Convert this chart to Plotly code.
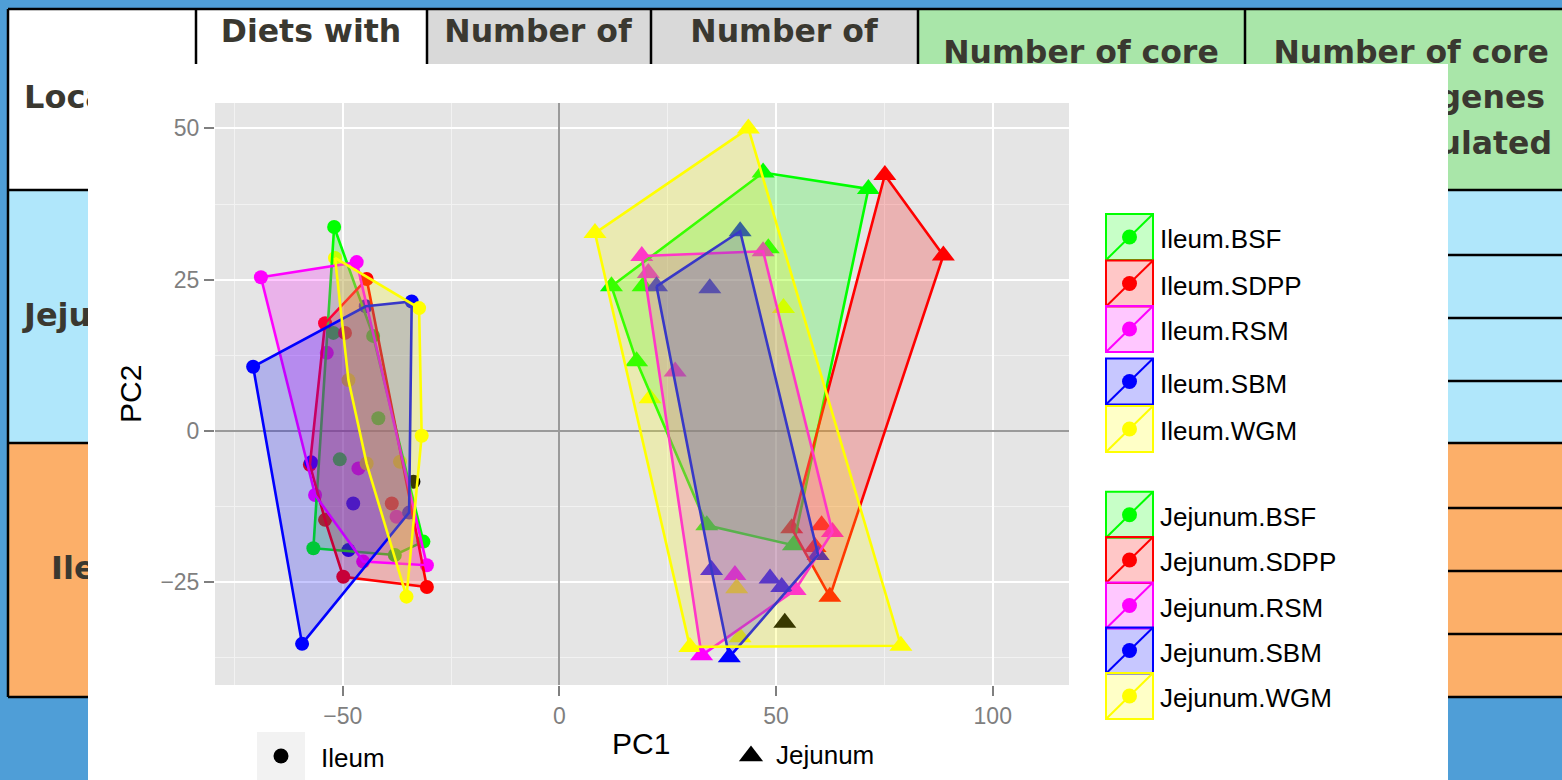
import plotly.graph_objects as go

W, H = 1562, 780

# ---------------- PCA scores (PC1, PC2) ----------------
# Ileum samples (circles)
ileum_bsf_pc1 = [-52.0, -52.2, -43.0, -41.8, -50.7, -56.8, -38.0, -31.4]
ileum_bsf_pc2 = [33.7, 16.2, 15.7, 2.1, -4.7, -19.4, -20.5, -18.3]
ileum_sdpp_pc1 = [-44.5, -54.1, -49.5, -57.6, -38.7, -54.1, -49.9, -30.6]
ileum_sdpp_pc2 = [25.1, 17.8, 16.2, -5.6, -12.0, -14.7, -24.1, -25.8]
ileum_rsm_pc1 = [-46.8, -68.9, -53.7, -46.4, -56.4, -37.6, -45.3, -30.6]
ileum_rsm_pc2 = [27.9, 25.4, 12.9, -6.2, -10.6, -14.2, -21.6, -22.2]
ileum_sbm_pc1 = [-34.1, -44.7, -70.7, -57.3, -47.6, -34.7, -48.7, -59.4]
ileum_sbm_pc2 = [21.4, 20.6, 10.6, -5.2, -12.0, -13.5, -19.7, -35.2]
ileum_wgm_pc1 = [-51.8, -32.4, -48.7, -31.8, -44.5, -36.8, -35.3]
ileum_wgm_pc2 = [28.6, 20.3, 8.4, -0.8, -5.4, -5.1, -27.4]
ileum_other_pc1 = [-33.7]
ileum_other_pc2 = [-8.4]

# Jejunum samples (triangles)
jejunum_bsf_pc1 = [47.0, 71.3, 48.2, 12.0, 19.3, 17.8, 34.0, 54.0]
jejunum_bsf_pc2 = [42.7, 40.0, 30.2, 23.9, 23.9, 11.5, -15.6, -18.9]
jejunum_sdpp_pc1 = [75.1, 88.6, 53.6, 60.5, 59.0, 62.4]
jejunum_sdpp_pc2 = [42.3, 29.0, -16.1, -15.6, -19.2, -27.4]
jejunum_rsm_pc1 = [19.0, 47.0, 20.5, 26.7, 63.0, 40.5, 54.4, 32.8]
jejunum_rsm_pc2 = [28.9, 29.7, 26.1, 9.8, -16.7, -23.8, -26.3, -37.1]
jejunum_sbm_pc1 = [41.7, 22.4, 34.7, 59.7, 35.1, 48.6, 51.3, 39.2]
jejunum_sbm_pc2 = [33.0, 23.9, 23.6, -20.5, -23.0, -24.4, -25.8, -37.4]
jejunum_wgm_pc1 = [43.6, 8.2, 51.7, 20.9, 40.9, 41.7, 30.1, 78.8]
jejunum_wgm_pc2 = [50.0, 32.7, 20.3, 5.4, -26.0, -34.1, -35.7, -35.5]
jejunum_other_pc1 = [52.0]
jejunum_other_pc2 = [-31.7]

diets = ["BSF", "SDPP", "RSM", "SBM", "WGM"]
tissues = ["Ileum", "Jejunum"]
x_ticks = [-50, 0, 50, 100]
y_ticks = [-25, 0, 25, 50]

ileum_groups = [
    (ileum_bsf_pc1, ileum_bsf_pc2), (ileum_sdpp_pc1, ileum_sdpp_pc2),
    (ileum_rsm_pc1, ileum_rsm_pc2), (ileum_sbm_pc1, ileum_sbm_pc2),
    (ileum_wgm_pc1, ileum_wgm_pc2),
]
jejunum_groups = [
    (jejunum_bsf_pc1, jejunum_bsf_pc2), (jejunum_sdpp_pc1, jejunum_sdpp_pc2),
    (jejunum_rsm_pc1, jejunum_rsm_pc2), (jejunum_sbm_pc1, jejunum_sbm_pc2),
    (jejunum_wgm_pc1, jejunum_wgm_pc2),
]

# ---------------- styles ----------------
diet_rgb = {"BSF": (0, 255, 0), "SDPP": (255, 0, 0), "RSM": (255, 0, 255),
            "SBM": (0, 0, 255), "WGM": (255, 255, 0)}
FILL_ALPHA = 0.22
SLIDE_BLUE = "#4f9ed7"
TXT = "#3a3830"
CHART_FONT = "Liberation Sans, Arial, sans-serif"
TABLE_FONT = "DejaVu Sans, Verdana, sans-serif"


def solid(d):
    r, g, b = diet_rgb[d]
    return f"rgb({r},{g},{b})"


def fill(d):
    r, g, b = diet_rgb[d]
    return f"rgba({r},{g},{b},{FILL_ALPHA})"


def px(xp):
    return xp / W


def py(yp):
    return 1 - yp / H


def convex_hull(xs, ys):
    pts = sorted(set(zip(xs, ys)))
    if len(pts) < 3:
        return pts

    def cross(o, a, b):
        return (a[0] - o[0]) * (b[1] - o[1]) - (a[1] - o[1]) * (b[0] - o[0])

    lower, upper = [], []
    for p in pts:
        while len(lower) >= 2 and cross(lower[-2], lower[-1], p) <= 0:
            lower.pop()
        lower.append(p)
    for p in reversed(pts):
        while len(upper) >= 2 and cross(upper[-2], upper[-1], p) <= 0:
            upper.pop()
        upper.append(p)
    return lower[:-1] + upper[:-1]


fig = go.Figure()

# ---------------- slide table behind the chart ----------------
shapes = []


def rect(x0, y0, x1, y1, color, line=None):
    shapes.append(dict(type="rect", xref="paper", yref="paper", layer="below",
                       x0=px(x0), x1=px(x1), y0=py(y1), y1=py(y0),
                       fillcolor=color, line=dict(width=0) if line is None else line))


def seg(x0, y0, x1, y1, color="#000000", width=2.5):
    shapes.append(dict(type="line", xref="paper", yref="paper", layer="below",
                       x0=px(x0), x1=px(x1), y0=py(y0), y1=py(y1),
                       line=dict(color=color, width=width)))


rect(8, 9, 427, 190, "#ffffff")
rect(427, 9, 918, 190, "#d9d9d9")
rect(918, 9, W, 190, "#a9e6a9")
rect(8, 190, W, 443, "#b0e7fb")
rect(8, 443, W, 697, "#fcaf69")
for yy in [9, 190, 443, 697]:
    seg(8, yy, W, yy)
for yy in [255, 318, 381, 508, 571, 634]:
    seg(196, yy, W, yy)
for xx in [8, 196, 427, 651, 918, 1245]:
    seg(xx, 9, xx, 697)

# white chart card and grey panel
rect(88, 64, 1448, H, "#ffffff")
rect(215, 103, 1069, 685, "#e5e5e5")

# clipped table text, drawn in pixel-space helper axes
table_font = dict(family=TABLE_FONT, size=32, color=TXT)
header_font = dict(family=TABLE_FONT, size=31.5, color=TXT)


def table_text(xa, ya, x, y, text, pos, font=header_font):
    fig.add_trace(go.Scatter(x=[x], y=[y], text=[f"<b>{text}</b>"], mode="text",
                             textposition=pos, textfont=font, xaxis=xa, yaxis=ya,
                             hoverinfo="skip", showlegend=False, cliponaxis=True))


# left strip
table_text("x2", "y2", 24, 100, "Location", "middle right", table_font)
table_text("x2", "y2", 24, 318, "Jejunum", "middle right", table_font)
table_text("x2", "y2", 51, 571, "Ileum", "middle right", table_font)
# header strip above the chart card
table_text("x3", "y3", 311, 34, "Diets with", "middle center")
table_text("x3", "y3", 538, 34, "Number of", "middle center")
table_text("x3", "y3", 784, 34, "Number of", "middle center")
table_text("x3", "y3", 1081, 55, "Number of core", "middle center")
table_text("x3", "y3", 1549, 55, "Number of core", "middle left")
# right strip
table_text("x4", "y4", 1549, 55, "Number of core", "middle left")
table_text("x4", "y4", 1545, 100, "genes", "middle left")
table_text("x4", "y4", 1552, 146, "regulated", "middle left")

# ---------------- sample points ----------------
for groups, sym, size in [(ileum_groups, "circle", 14), (jejunum_groups, "triangle-up", 20)]:
    for d, (gx, gy) in zip(diets, groups):
        fig.add_trace(go.Scatter(x=gx, y=gy, mode="markers",
                                 marker=dict(symbol=sym, size=size, color=solid(d), line=dict(width=0)),
                                 hoverinfo="skip", showlegend=False))
fig.add_trace(go.Scatter(x=ileum_other_pc1, y=ileum_other_pc2, mode="markers",
                         marker=dict(symbol="circle", size=14, color="#000000", line=dict(width=0)),
                         hoverinfo="skip", showlegend=False))
fig.add_trace(go.Scatter(x=jejunum_other_pc1, y=jejunum_other_pc2, mode="markers",
                         marker=dict(symbol="triangle-up", size=20, color="#000000", line=dict(width=0)),
                         hoverinfo="skip", showlegend=False))

# ---------------- convex hulls per group ----------------
for groups in [ileum_groups, jejunum_groups]:
    for d, (gx, gy) in zip(diets, groups):
        hp = convex_hull(gx, gy)
        hx = [p[0] for p in hp] + [hp[0][0]]
        hy = [p[1] for p in hp] + [hp[0][1]]
        fig.add_trace(go.Scatter(x=hx, y=hy, mode="lines", fill="toself", fillcolor=fill(d),
                                 line=dict(color=solid(d), width=2.6),
                                 hoverinfo="skip", showlegend=False))

# ---------------- colour legend (drawn keys) ----------------
key_x0, key_x1 = 1106, 1153
key_centers = {"Ileum": [237, 283.5, 329, 381.5, 429],
               "Jejunum": [514.7, 560, 605.5, 650.5, 696]}
annotations = []
for t in tissues:
    for d, c in zip(diets, key_centers[t]):
        y0, y1 = c - 23, c + 23
        rect(key_x0, y0, key_x1, y1, fill(d), line=dict(color=solid(d), width=2))
        seg(key_x0, y1, key_x1, y0, color=solid(d), width=2)
        fig.add_trace(go.Scatter(x=[(key_x0 + key_x1) / 2], y=[c], mode="markers",
                                 marker=dict(symbol="circle", size=15, color=solid(d), line=dict(width=0)),
                                 xaxis="x5", yaxis="y5", hoverinfo="skip", showlegend=False))
        annotations.append(dict(xref="paper", yref="paper", x=px(1158), y=py(c + 2),
                                xanchor="left", yanchor="middle", showarrow=False,
                                text=f"{t}.{d}", font=dict(family=CHART_FONT, size=26, color="#000000")))

# ---------------- shape legend ----------------
rect(257, 732, 305, H, "#f2f2f2")
fig.add_trace(go.Scatter(x=[281], y=[756], mode="markers",
                         marker=dict(symbol="circle", size=15, color="#000000"),
                         xaxis="x5", yaxis="y5", hoverinfo="skip", showlegend=False))
fig.add_trace(go.Scatter(x=[751], y=[756], mode="markers",
                         marker=dict(symbol="triangle-up", size=21, color="#000000"),
                         xaxis="x5", yaxis="y5", hoverinfo="skip", showlegend=False))
annotations.append(dict(xref="paper", yref="paper", x=px(319), y=py(758), xanchor="left",
                        yanchor="middle", showarrow=False, text=tissues[0],
                        font=dict(family=CHART_FONT, size=26, color="#000000")))
annotations.append(dict(xref="paper", yref="paper", x=px(774), y=py(755), xanchor="left",
                        yanchor="middle", showarrow=False, text=tissues[1],
                        font=dict(family=CHART_FONT, size=26, color="#000000")))

# axis titles
annotations.append(dict(xref="paper", yref="paper", x=px(641), y=py(743), xanchor="center",
                        yanchor="middle", showarrow=False, text="PC1",
                        font=dict(family=CHART_FONT, size=30, color="#000000")))
annotations.append(dict(xref="paper", yref="paper", x=px(130), y=py(394), xanchor="center",
                        yanchor="middle", showarrow=False, text="PC2", textangle=-90,
                        font=dict(family=CHART_FONT, size=30, color="#000000")))

tick_font = dict(family=CHART_FONT, size=23, color="#7f7f7f")
hidden = dict(visible=False, showgrid=False, zeroline=False, fixedrange=True)

fig.update_layout(
    width=W, height=H, autosize=False,
    margin=dict(l=0, r=0, t=0, b=0, pad=0),
    paper_bgcolor=SLIDE_BLUE, plot_bgcolor="rgba(0,0,0,0)",
    shapes=shapes, annotations=annotations, showlegend=False,
    xaxis=dict(domain=[px(215), px(1069)], range=[-79.5, 117.6], tickvals=x_ticks,
               ticks="outside", ticklen=10, tickwidth=2, tickcolor="#7f7f7f", tickfont=tick_font,
               showgrid=True, gridcolor="#ffffff", gridwidth=2,
               minor=dict(tickvals=[-75, -25, 25, 75], showgrid=True, gridcolor="#f2f2f2", gridwidth=1),
               zeroline=True, zerolinecolor="#9a9a9a", zerolinewidth=2, showline=False, fixedrange=True),
    yaxis=dict(domain=[py(685), py(103)], range=[-42.0, 54.2], tickvals=y_ticks,
               ticks="outside", ticklen=10, tickwidth=2, tickcolor="#7f7f7f", tickfont=tick_font,
               showgrid=True, gridcolor="#ffffff", gridwidth=2,
               minor=dict(tickvals=[-37.5, -12.5, 12.5, 37.5], showgrid=True, gridcolor="#f2f2f2", gridwidth=1),
               zeroline=True, zerolinecolor="#9a9a9a", zerolinewidth=2, showline=False, fixedrange=True),
    xaxis2=dict(domain=[0, px(88)], range=[0, 88], anchor="y2", **hidden),
    yaxis2=dict(domain=[0, 1], range=[H, 0], anchor="x2", **hidden),
    xaxis3=dict(domain=[px(88), px(1448)], range=[88, 1448], anchor="y3", **hidden),
    yaxis3=dict(domain=[py(64), 1], range=[64, 0], anchor="x3", **hidden),
    xaxis4=dict(domain=[px(1448), 1], range=[1448, W], anchor="y4", **hidden),
    yaxis4=dict(domain=[0, 1], range=[H, 0], anchor="x4", **hidden),
    xaxis5=dict(domain=[0, 1], range=[0, W], anchor="y5", **hidden),
    yaxis5=dict(domain=[0, 1], range=[H, 0], anchor="x5", **hidden),
)

fig.write_html("out.html")
